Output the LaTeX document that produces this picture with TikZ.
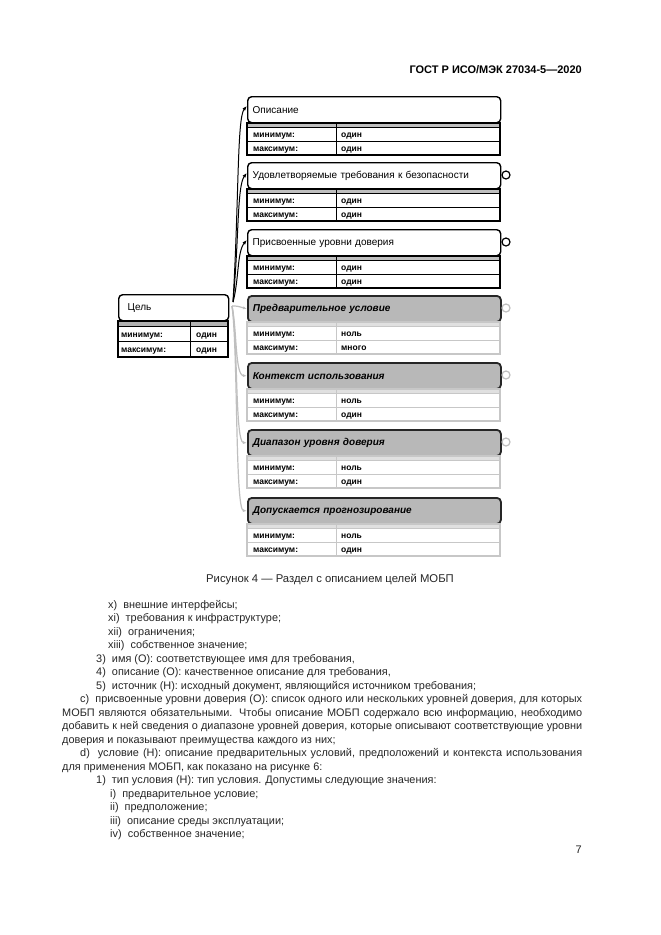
\documentclass[tikz,border=0pt]{standalone}
\usepackage{fontspec}
\setmainfont{Liberation Sans}
\usetikzlibrary{arrows.meta}
\tikzset{
  hdrblack/.style={draw=black, line width=1.4pt, fill=white, rounded corners=4pt,
    text width=243pt, inner xsep=5pt, inner ysep=0pt, minimum height=26pt, align=left,
    font=\fontsize{10}{12}\selectfont},
  hdrgray/.style={draw=black!85, line width=1.8pt, fill=black!28, rounded corners=4pt,
    text width=243pt, inner xsep=5pt, inner ysep=0pt, minimum height=26pt, align=left,
    font=\fontsize{10}{12}\selectfont\bfseries\itshape},
  celltxt/.style={anchor=base west, inner sep=0pt, font=\fontsize{8.5}{10}\selectfont\bfseries},
  bodytxt/.style={anchor=base west, inner sep=0pt, text=black!85, font=\fontsize{10.9}{13}\selectfont},
  blkconn/.style={draw=black, line width=1pt, -{Latex[length=5pt,width=3.5pt]}},
  grayconn/.style={draw=black!25, line width=1.2pt, -{Latex[length=4pt,width=3pt]}},
  ring/.style={circle, draw, line width=1.2pt, fill=white, inner sep=0pt, minimum size=8pt},
}
\newcommand\mobpTable[6]{% #1 name, #2 top, #3 line colour, #4 strip colour, #5 min, #6 max
  \fill[#4] (247,#2+27) rectangle (500,#2+31);
  \draw[#3, line width=0.8pt] (247,#2+31) -- (500,#2+31);
  \draw[#3, line width=0.8pt] (247,#2+45) -- (500,#2+45);
  \draw[#3, line width=0.8pt] (336,#2+27) -- (336,#2+59);
  \draw[#3, line width=1.3pt] (247,#2+27) rectangle (500,#2+59);
  \node[celltxt] (#1minl) at (253,#2+41.5) {минимум:};
  \node[celltxt] (#1minv) at (341,#2+41.5) {#5};
  \node[celltxt] (#1maxl) at (253,#2+55.5) {максимум:};
  \node[celltxt] (#1maxv) at (341,#2+55.5) {#6};
}
\begin{document}
\begin{tikzpicture}[x=1pt,y=-1pt]
\useasboundingbox (0,0) rectangle (661,935);
\fill[white] (0,0) rectangle (661,935);

% page header
\node[anchor=base east, inner sep=0pt, font=\fontsize{11}{13}\selectfont\bfseries] (gost) at (582,73) {ГОСТ Р ИСО/МЭК 27034-5—2020};

% goal box
\node[draw=black, line width=1.4pt, fill=white, rounded corners=4pt, text width=100pt,
  inner xsep=5pt, inner ysep=0pt, minimum height=26pt, align=left,
  font=\fontsize{10}{12}\selectfont, anchor=north west] (goal) at (118,294) {\hspace{4pt}Цель};
\fill[black!30] (118,321) rectangle (228,326);
\draw[line width=0.8pt] (118,326) -- (228,326);
\draw[line width=0.8pt] (118,341) -- (228,341);
\draw[line width=0.8pt] (190,321) -- (190,357);
\draw[line width=1.3pt] (118,321) rectangle (228,357);
\node[celltxt] (gminl) at (121,337.5) {минимум:};
\node[celltxt] (gminv) at (196,337.5) {один};
\node[celltxt] (gmaxl) at (121,352.5) {максимум:};
\node[celltxt] (gmaxv) at (196,352.5) {один};

% boxes
\node[hdrblack, anchor=north west] (h1) at (247,96) {Описание};
\mobpTable{ta}{96}{black}{black!25}{один}{один}
\node[hdrblack, anchor=north west] (h2) at (247,162) {Удовлетворяемые требования к безопасности};
\mobpTable{tb}{162}{black}{black!25}{один}{один}
\node[hdrblack, anchor=north west] (h3) at (247,229) {Присвоенные уровни доверия};
\mobpTable{tc}{229}{black}{black!25}{один}{один}
\node[hdrgray, anchor=north west] (h4) at (247,295) {Предварительное условие};
\mobpTable{td}{295}{black!22}{black!12}{ноль}{много}
\node[hdrgray, anchor=north west] (h5) at (247,362) {Контекст использования};
\mobpTable{te}{362}{black!22}{black!12}{ноль}{один}
\node[hdrgray, anchor=north west] (h6) at (247,429) {Диапазон уровня доверия};
\mobpTable{tf}{429}{black!22}{black!12}{ноль}{один}
\node[hdrgray, anchor=north west] (h7) at (247,497) {Допускается прогнозирование};
\mobpTable{tg}{497}{black!22}{black!12}{ноль}{один}

% rings
\node[ring] (r2) at (506,175) {};
\node[ring] (r3) at (506,242) {};
\node[ring, draw=black!25] (r4) at (506,308) {};
\node[ring, draw=black!25] (r5) at (506,375) {};
\node[ring, draw=black!25] (r6) at (506,442) {};

% connectors
\coordinate (srcb) at (233,302);
\coordinate (srcg) at (232,306);
\draw[grayconn] (srcg) .. controls (237,306) .. (h4.west);
\draw[grayconn] (srcg) .. controls (237,330) and (235,375) .. (h5.west);
\draw[grayconn] (srcg) .. controls (238,340) and (235,442) .. (h6.west);
\draw[grayconn] (srcg) .. controls (238,350) and (235,510) .. (h7.west);
\draw[blkconn] (srcb) .. controls (239,200) and (237,118) .. ([yshift=4pt]h1.west);
\draw[blkconn] (srcb) .. controls (239,240) and (237,186) .. ([yshift=3pt]h2.west);
\draw[blkconn] (srcb) .. controls (239,280) and (237,252) .. ([yshift=3pt]h3.west);

% caption
\node[anchor=base, inner sep=0pt, text=black!85, font=\fontsize{11.3}{13}\selectfont] (cap) at (330,582) {Рисунок 4 — Раздел с описанием целей МОБП};

% body text
\node[bodytxt] (l0) at (108,608) {x)\ \ внешние интерфейсы;};
\node[bodytxt] (l1) at (108,621.5) {xi)\ \ требования к инфраструктуре;};
\node[bodytxt] (l2) at (108,635) {xii)\ \ ограничения;};
\node[bodytxt] (l3) at (108,648.5) {xiii)\ \ собственное значение;};
\node[bodytxt] (l4) at (96,662) {3)\ \ имя (О): соответствующее имя для требования,};
\node[bodytxt] (l5) at (96,675.5) {4)\ \ описание (О): качественное описание для требования,};
\node[bodytxt] (l6) at (96,689) {5)\ \ источник (Н): исходный документ, являющийся источником требования;};
\node[bodytxt] (l7) at (80,702.5) {\makebox[502pt][s]{c)\ \ присвоенные уровни доверия (О): список одного или нескольких уровней доверия, для которых}};
\node[bodytxt] (l8) at (62,716) {\makebox[520pt][s]{МОБП являются обязательными. Чтобы описание МОБП содержало всю информацию, необходимо}};
\node[bodytxt] (l9) at (62,729.5) {\makebox[520pt][s]{добавить к ней сведения о диапазоне уровней доверия, которые описывают соответствующие уровни}};
\node[bodytxt] (l10) at (62,743) {доверия и показывают преимущества каждого из них;};
\node[bodytxt] (l11) at (80,756.5) {\makebox[502pt][s]{d)\ \ условие (Н): описание предварительных условий, предположений и контекста использования}};
\node[bodytxt] (l12) at (62,770) {для применения МОБП, как показано на рисунке 6:};
\node[bodytxt] (l13) at (96,783.5) {1)\ \ тип условия (Н): тип условия. Допустимы следующие значения:};
\node[bodytxt] (l14) at (110,797) {i)\ \ предварительное условие;};
\node[bodytxt] (l15) at (110,810.5) {ii)\ \ предположение;};
\node[bodytxt] (l16) at (110,824) {iii)\ \ описание среды эксплуатации;};
\node[bodytxt] (l17) at (110,837.5) {iv)\ \ собственное значение;};

\node[anchor=base east, inner sep=0pt, text=black!85, font=\fontsize{11}{13}\selectfont] (pnum) at (582,853) {7};
\end{tikzpicture}
\end{document}
